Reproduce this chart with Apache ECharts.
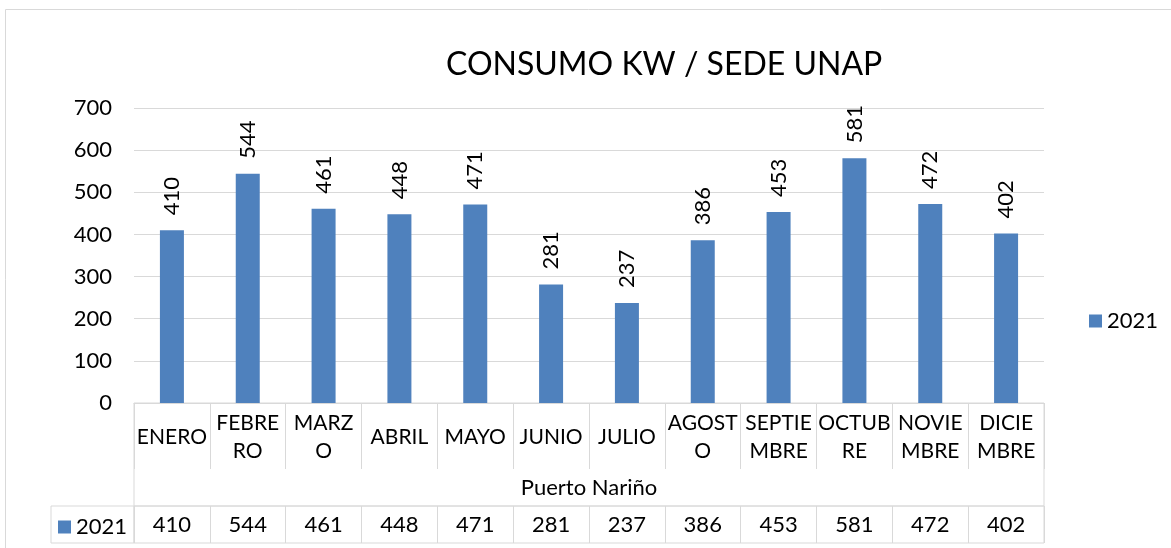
<!DOCTYPE html>
<html>
<head>
<meta charset="utf-8">
<title>CONSUMO KW / SEDE UNAP</title>
<script src="https://cdn.jsdelivr.net/npm/echarts@6/dist/echarts.min.js"></script>
<style>
  html, body { margin: 0; padding: 0; background: #fff; }
  #main { width: 1171px; height: 548px; }
</style>
</head>
<body>
<div id="main"></div>
<script>
// datos
var meses = ['ENERO', 'FEBRE\nRO', 'MARZ\nO', 'ABRIL', 'MAYO', 'JUNIO', 'JULIO',
  'AGOST\nO', 'SEPTIE\nMBRE', 'OCTUB\nRE', 'NOVIE\nMBRE', 'DICIE\nMBRE'];
var consumo2021 = [410, 544, 461, 448, 471, 281, 237, 386, 453, 581, 472, 402];
var grupo = ['Puerto Nariño'];
var serieNombre = '2021';
var ticksY = { min: 0, max: 700, interval: 100 };

var FONT = 'Lato';
var GRIS = '#d9d9d9';
var AZUL = '#4f81bd';

var chart = echarts.init(document.getElementById('main'));

var option = {
  animation: false,
  textStyle: { fontFamily: FONT, color: '#000' },
  title: {
    text: 'CONSUMO KW / SEDE UNAP',
    left: 441,
    top: 44,
    textStyle: { fontFamily: FONT, fontSize: 32, fontWeight: 'normal', color: '#000' }
  },
  legend: [
    {
      data: [serieNombre],
      left: 1084,
      top: 305,
      icon: 'rect',
      itemWidth: 13,
      itemHeight: 13,
      textStyle: { fontFamily: FONT, fontSize: 22, color: '#000' }
    },
    {
      data: [serieNombre],
      left: 53,
      top: 511,
      icon: 'rect',
      itemWidth: 13,
      itemHeight: 13,
      textStyle: { fontFamily: FONT, fontSize: 22, color: '#000' }
    }
  ],
  graphic: [{
    type: 'rect',
    shape: { x: 5.5, y: 9.5, width: 1200, height: 600 },
    style: { fill: 'none', stroke: GRIS, lineWidth: 1 },
    silent: true
  }],
  grid: [
    // area del grafico
    { left: 134, right: 127, top: 108, bottom: 145 },
    // fila de grupo
    { left: 134, right: 127, top: 403, height: 103, show: true, borderColor: GRIS },
    // fila de datos
    { left: 134, right: 127, top: 506, height: 37, show: true, borderColor: GRIS },
    // celda de leyenda
    { left: 51, width: 83, top: 506, height: 37, show: true, borderColor: GRIS }
  ],
  xAxis: [
    {
      gridIndex: 0,
      type: 'category',
      data: meses,
      axisLine: { lineStyle: { color: GRIS } },
      axisTick: { show: true, interval: 0, length: 66, lineStyle: { color: GRIS } },
      axisLabel: {
        interval: 0,
        margin: 34,
        verticalAlign: 'middle',
        fontFamily: FONT,
        fontSize: 21,
        lineHeight: 28,
        color: '#000'
      }
    },
    {
      gridIndex: 1,
      type: 'category',
      data: grupo,
      axisLine: { show: false },
      axisTick: { show: false },
      axisLabel: {
        inside: true,
        margin: 18,
        verticalAlign: 'middle',
        fontFamily: FONT,
        fontSize: 22,
        color: '#000'
      }
    },
    {
      gridIndex: 2,
      type: 'category',
      data: consumo2021.map(String),
      axisLine: { show: false },
      axisTick: { show: false },
      splitLine: { show: true, interval: 0, lineStyle: { color: GRIS } },
      axisLabel: {
        interval: 0,
        inside: true,
        margin: 18,
        verticalAlign: 'middle',
        fontFamily: FONT,
        fontSize: 22,
        color: '#000'
      }
    },
    {
      gridIndex: 3,
      type: 'category',
      data: [''],
      show: false
    }
  ],
  yAxis: [
    {
      gridIndex: 0,
      type: 'value',
      min: ticksY.min,
      max: ticksY.max,
      interval: ticksY.interval,
      axisLine: { show: false },
      axisTick: { show: false },
      splitLine: { lineStyle: { color: GRIS } },
      axisLabel: { margin: 22, fontFamily: FONT, fontSize: 22, color: '#000' }
    },
    { gridIndex: 1, type: 'value', show: false },
    { gridIndex: 2, type: 'value', show: false },
    { gridIndex: 3, type: 'value', show: false }
  ],
  series: [
    {
      name: serieNombre,
      type: 'bar',
      xAxisIndex: 0,
      yAxisIndex: 0,
      data: consumo2021,
      barWidth: 24,
      itemStyle: { color: AZUL },
      label: {
        show: true,
        position: 'top',
        rotate: 90,
        align: 'left',
        verticalAlign: 'middle',
        distance: 15,
        fontFamily: FONT,
        fontSize: 22,
        color: '#000'
      }
    }
  ]
};

chart.setOption(option);
</script>
</body>
</html>
